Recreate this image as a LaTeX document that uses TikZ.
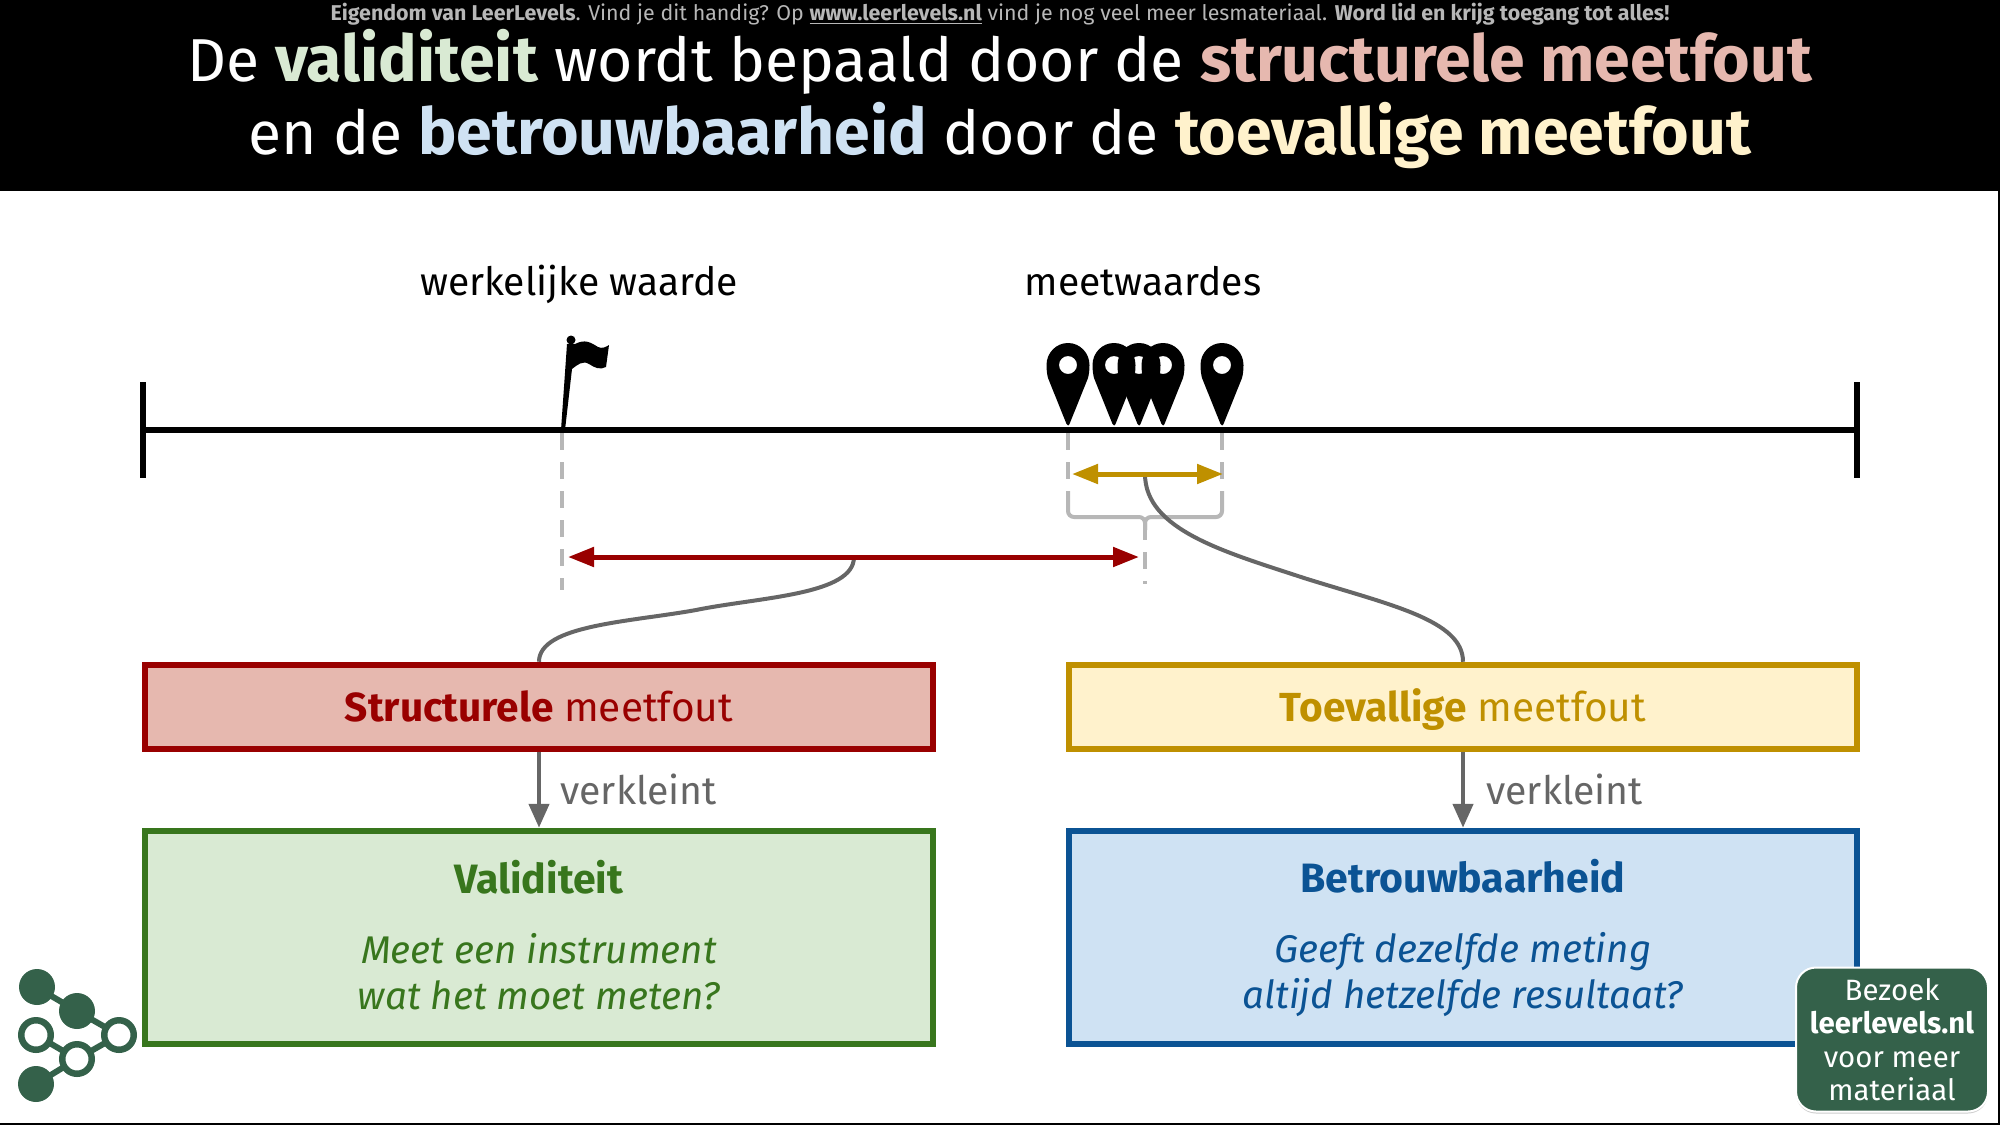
\documentclass[tikz,border=0pt]{standalone}
\usepackage{fontspec}
\setmainfont{Fira Sans}
\usetikzlibrary{arrows.meta, shadows}

\definecolor{redline}{HTML}{990000}
\definecolor{redfill}{HTML}{E6B8AF}
\definecolor{goldline}{HTML}{BF9000}
\definecolor{goldfill}{HTML}{FFF2CC}
\definecolor{greenline}{HTML}{38761D}
\definecolor{greenfill}{HTML}{D9EAD3}
\definecolor{blueline}{HTML}{0B5394}
\definecolor{bluefill}{HTML}{CFE2F3}
\definecolor{greyline}{HTML}{666666}
\definecolor{guideline}{HTML}{B7B7B7}
\definecolor{logogreen}{HTML}{34614A}

\newcommand{\headsize}{\fontsize{20.5}{23}\selectfont}
\newcommand{\titlebold}[2]{\textcolor{#1}{\fontsize{32.2}{36}\selectfont\textbf{#2}}}

\tikzset{
  titletext/.style={text=white, anchor=base, font=\fontsize{30.3}{36}\selectfont},
  smalltext/.style={text=guideline, anchor=base, font=\fontsize{10.7}{12}\selectfont},
  axistext/.style={anchor=base, font=\fontsize{19.5}{22}\selectfont},
  errorbox/.style={draw, line width=3.25pt, minimum width=394pt, minimum height=42pt, text height=14pt, text depth=0pt, font=\fontsize{20.3}{22}\selectfont},
  qualitybox/.style={draw, line width=3.25pt, minimum width=394pt, minimum height=106.5pt, align=center, font=\fontsize{19.3}{23}\selectfont},
  flowtext/.style={text=greyline, anchor=base west, inner sep=0pt, font=\fontsize{19.6}{22}\selectfont},
  axisline/.style={line width=3.2pt},
  guide/.style={guideline, line width=2pt, dash pattern=on 8.25pt off 6.25pt},
  bracket/.style={guideline, line width=2pt, rounded corners=3pt},
  spread/.style={line width=2.5pt, {Triangle[length=13pt,width=9.5pt]}-{Triangle[length=13pt,width=9.5pt]}},
  link/.style={greyline, line width=2pt},
  flow/.style={greyline, line width=2.25pt, -{Triangle[length=12pt,width=10pt]}},
  logolink/.style={logogreen, line width=3pt},
  logofull/.style={circle, fill=logogreen, minimum size=18pt, inner sep=0pt},
  logoring/.style={circle, draw=logogreen, fill=white, line width=3.25pt, minimum size=14.75pt, inner sep=0pt},
  visit/.style={draw=white, line width=1pt, fill=logogreen, rounded corners=10pt, text=white, align=center, minimum width=96pt, minimum height=72pt, inner sep=0pt, drop shadow={shadow xshift=0pt, shadow yshift=-1pt, opacity=0.4}, font=\fontsize{14.7}{16.75}\selectfont},
  mappin/.pic={
    \fill[even odd rule] (-1.5,-2) -- (-20,-48) .. controls (-21,-52) and (-21.5,-56) .. (-21.5,-61)
      .. controls (-21.5,-73) and (-12,-83) .. (0,-83) .. controls (12,-83) and (21.5,-73) .. (21.5,-61)
      .. controls (21.5,-56) and (21,-52) .. (20,-48) -- (1.5,-2) .. controls (0.5,0) and (-0.5,0) .. (-1.5,-2) -- cycle
      (0,-61) circle [radius=9];
  }
}

\begin{document}
\begin{tikzpicture}[x=0.5pt, y=-0.5pt]

  \useasboundingbox (0,0) rectangle (2000,1125);

  \fill[black] (0,0) rectangle (2000,191);
  \draw[black, line width=1pt] (0,1124) -- (2000,1124);
  \draw[black, line width=1pt] (1999,191) -- (1999,1125);

  \node[smalltext] (owner) at (1000,20) {\textbf{Eigendom van LeerLevels}. Vind je dit handig? Op \textbf{\underline{www.leerlevels.nl}} vind je nog veel meer lesmateriaal. \textbf{Word lid en krijg toegang tot alles!}};
  \node[titletext] (firstline) at (1000,81.5) {De \titlebold{greenfill}{validiteit} wordt bepaald door de \titlebold{redfill}{structurele meetfout}};
  \node[titletext] (secondline) at (1000,154) {en de \titlebold{bluefill}{betrouwbaarheid} door de \titlebold{goldfill}{toevallige meetfout}};

  \node[axistext] (truelabel) at (579,295) {werkelijke waarde};
  \node[axistext] (measlabel) at (1143,295) {meetwaardes};

  \coordinate (axisleft) at (143,430);
  \coordinate (axisright) at (1857,430);
  \draw[axisline] (axisleft) -- (axisright);
  \draw[axisline] (143,382) -- (143,478);
  \draw[axisline] (1857,382) -- (1857,478);

  \fill (561,430) -- (567,344) -- (575,344) .. controls (585,339) and (590,342) .. (598,347) .. controls (602,349) and (606,347) .. (609,345) -- (606,367) .. controls (600,370) and (595,368) .. (589,364) .. controls (583,360) and (577,365) .. (572,369) -- (565,430) -- cycle;
  \fill (571,340) circle [radius=4.5];

  \pic at (1068,426) {mappin};
  \pic at (1114,426) {mappin};
  \pic at (1139,426) {mappin};
  \pic at (1163,426) {mappin};
  \pic at (1222,426) {mappin};

  \draw[guide] (562,433) -- (562,590);
  \draw[guide] (1068,433) -- (1068,488);
  \draw[guide] (1222,433) -- (1222,488);
  \draw[bracket] (1068,491) -- (1068,517) -- (1145,517) -- (1145,530);
  \draw[bracket] (1222,491) -- (1222,517) -- (1145,517) -- (1145,530);
  \draw[guide] (1145,523) -- (1145,584);

  \coordinate (redleft) at (568,557);
  \coordinate (redright) at (1139,557);
  \coordinate (redstart) at (854,557);
  \coordinate (goldleft) at (1072,474);
  \coordinate (goldright) at (1223,474);
  \coordinate (goldstart) at (1145,474);

  \node[errorbox, draw=redline, fill=redfill] (structbox) at (539,707) {\textcolor{redline}{\textbf{Structurele} meetfout}};
  \node[errorbox, draw=goldline, fill=goldfill] (randombox) at (1463,707) {\textcolor{goldline}{\textbf{Toevallige} meetfout}};
  \node[qualitybox, draw=greenline, fill=greenfill, text=greenline] (validbox) at (539,937.5) {{\headsize\rule{0pt}{16pt}\textbf{Validiteit}}\\[12pt]\textit{Meet een instrument}\\\rule[-2.5pt]{0pt}{2.5pt}\textit{wat het moet meten?}};
  \node[qualitybox, draw=blueline, fill=bluefill, text=blueline] (reliabox) at (1463,937.5) {{\headsize\rule{0pt}{16pt}\textbf{Betrouwbaarheid}}\\[12pt]\textit{Geeft dezelfde meting}\\\rule[-2.5pt]{0pt}{2.5pt}\textit{altijd hetzelfde resultaat?}};

  \draw[link] (redstart) .. controls (854,595) and (760,597) .. (696,610) .. controls (630,622) and (539,625) .. (structbox.north);
  \draw[link] (goldstart) .. controls (1145,530) and (1225,552) .. (1304,578) .. controls (1390,605) and (1463,620) .. (randombox.north);

  \draw[spread, redline] (redleft) -- (redright);
  \draw[spread, goldline] (goldleft) -- (goldright);

  \draw[flow] (structbox) -- (validbox);
  \draw[flow] (randombox) -- (reliabox);
  \node[flowtext] (shrinkleft) at (560,804) {verkleint};
  \node[flowtext] (shrinkright) at (1486,804) {verkleint};

  \draw[logolink] (36,987) -- (77,1011) -- (119,1035) -- (77,1059) -- (36,1084);
  \draw[logolink] (36,1035) -- (77,1059);
  \node[logofull] (dota) at (37,987) {};
  \node[logofull] (dotb) at (77,1011) {};
  \node[logoring] (ringa) at (36,1035) {};
  \node[logoring] (ringb) at (119,1035) {};
  \node[logoring] (ringc) at (77,1059) {};
  \node[logofull] (dotc) at (36,1084) {};

  \node[visit] (visitbox) at (1892,1039.5) {Bezoek\\\textbf{leerlevels.nl}\\voor meer\\materiaal};

\end{tikzpicture}
\end{document}
